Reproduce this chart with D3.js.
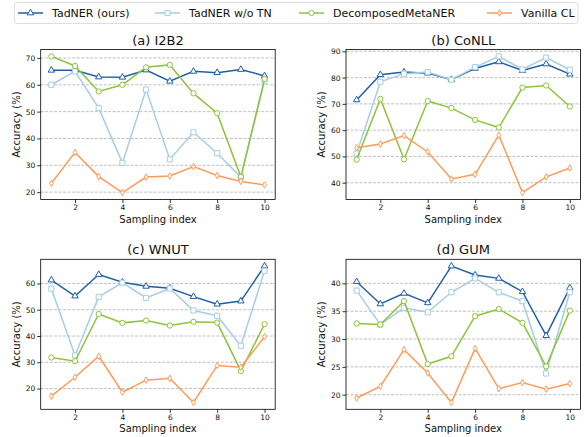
<!DOCTYPE html>
<html>
<head>
<meta charset="utf-8">
<script src="https://cdn.jsdelivr.net/npm/d3@7"></script>
<style>
  body { margin: 0; background: #fff; }
  svg { font-family: "DejaVu Sans", sans-serif; }
</style>
</head>
<body>
<div id="chart"></div>
<script>
// --- DATA ---
const samplingIndex = [1, 2, 3, 4, 5, 6, 7, 8, 9, 10];
const xTicks = [2, 4, 6, 8, 10];
const panelTitles = ["(a) I2B2", "(b) CoNLL", "(c) WNUT", "(d) GUM"];
const seriesNames = ["TadNER (ours)", "TadNER w/o TN", "DecomposedMetaNER", "Vanilla CL"];

// one array per panel, in the order a, b, c, d
const tadnerOurs = [
    [65.4, 65.4, 62.9, 62.8, 65.5, 61.3, 65.0, 64.5, 65.7, 63.3],
    [71.5, 81.1, 82.1, 81.7, 79.2, 83.5, 86.0, 82.7, 85.2, 81.3],
    [61.3, 55.2, 63.4, 60.5, 58.9, 58.2, 55.0, 52.1, 53.3, 66.6],
    [40.3, 36.3, 38.2, 36.5, 43.1, 41.5, 40.9, 38.5, 30.6, 39.2]
];
const tadnerNoTN = [
    [60.0, 65.0, 51.3, 30.9, 58.2, 32.2, 42.3, 34.5, 25.5, 61.5],
    [51.1, 78.4, 81.5, 82.1, 79.2, 84.0, 88.1, 83.1, 87.6, 83.0],
    [58.0, 32.6, 54.9, 60.3, 54.5, 58.1, 49.7, 47.7, 36.3, 64.8],
    [38.7, 32.6, 35.6, 34.8, 38.4, 40.9, 38.4, 36.8, 23.8, 38.4]
];
const decomposedMetaNER = [
    [70.6, 67.0, 57.5, 60.0, 66.5, 67.4, 56.8, 49.4, 25.7, 62.2],
    [48.8, 71.9, 48.9, 71.1, 68.4, 63.9, 61.0, 76.2, 77.0, 69.0],
    [31.8, 30.4, 48.4, 45.0, 45.9, 44.0, 45.4, 45.1, 26.7, 44.5],
    [32.8, 32.6, 36.8, 25.5, 26.9, 34.1, 35.4, 32.9, 25.1, 35.1]
];
const vanillaCL = [
    [23.3, 34.8, 25.8, 19.8, 25.6, 26.0, 29.5, 26.2, 24.0, 22.7],
    [53.3, 54.7, 57.9, 51.7, 41.4, 43.2, 58.1, 36.2, 42.2, 45.6],
    [17.1, 24.3, 32.3, 18.6, 23.2, 23.9, 14.7, 28.8, 28.1, 39.7],
    [19.4, 21.5, 28.1, 23.9, 18.6, 28.3, 21.1, 22.2, 21.0, 22.0]
];
const yTickValues = [
    [20, 30, 40, 50, 60, 70],
    [40, 50, 60, 70, 80, 90],
    [20, 30, 40, 50, 60],
    [20, 25, 30, 35, 40]
];

// --- STYLE ---
const colors = ["#1f5fa8", "#a6cde3", "#8dc43c", "#fd9c5a"];
const symbols = [d3.symbolTriangle, d3.symbolSquare, d3.symbolCircle, d3.symbolDiamond];
const symbolSizes = [18, 26, 22, 12];
const allSeries = [tadnerOurs, tadnerNoTN, decomposedMetaNER, vanillaCL];

const width = 585;
const height = 437;
const panelW = 234.5;
const panelH = 150;
const panelPos = [
    { left: 40.7, top: 49.5 },
    { left: 346, top: 49.5 },
    { left: 40.7, top: 259.3 },
    { left: 346, top: 259.3 }
];

const svg = d3.select("#chart")
    .append("svg")
    .attr("width", width)
    .attr("height", height)
    .attr("viewBox", [0, 0, width, height]);

// --- LEGEND ---
const legend = svg.append("g").attr("class", "legend");
legend.append("rect")
    .attr("x", 14.5).attr("y", 2.5)
    .attr("width", 563.5).attr("height", 21)
    .attr("rx", 2.5)
    .attr("fill", "#fff")
    .attr("stroke", "#d6d6d6")
    .attr("stroke-width", 0.8);

const legendX = [18, 155, 299, 487]; // line start of each entry
seriesNames.forEach((name, i) => {
    const g = legend.append("g").attr("transform", `translate(${legendX[i]}, 13)`);
    g.append("line")
        .attr("x1", 0).attr("x2", 25)
        .attr("stroke", colors[i])
        .attr("stroke-width", 1.5);
    g.append("path")
        .attr("transform", "translate(12.5, 0)")
        .attr("d", d3.symbol(symbols[i], symbolSizes[i])())
        .attr("fill", "#fff")
        .attr("stroke", colors[i])
        .attr("stroke-width", 1);
    g.append("text")
        .attr("x", 34)
        .attr("y", 4)
        .attr("font-size", "11px")
        .attr("fill", "#111")
        .text(name);
});

// --- PANELS ---
panelTitles.forEach((title, p) => {
    const pos = panelPos[p];
    const g = svg.append("g").attr("transform", `translate(${pos.left}, ${pos.top})`);

    const x = d3.scaleLinear()
        .domain([0.55, 10.45])
        .range([0, panelW]);

    // matplotlib style autoscale: 5% margin on data extent
    const vals = allSeries.flatMap(s => s[p]);
    const [lo, hi] = d3.extent(vals);
    const pad = (hi - lo) * 0.05;
    const y = d3.scaleLinear()
        .domain([lo - pad, hi + pad])
        .range([panelH, 0]);

    // grid lines (dashed)
    g.append("g")
        .selectAll("line")
        .data(yTickValues[p])
        .join("line")
        .attr("x1", 0).attr("x2", panelW)
        .attr("y1", d => y(d)).attr("y2", d => y(d))
        .attr("stroke", "#b0b0b0")
        .attr("stroke-width", 0.8)
        .attr("stroke-dasharray", "3,1.5");

    // axes
    const xAxis = g.append("g")
        .attr("transform", `translate(0, ${panelH})`)
        .call(d3.axisBottom(x).tickValues(xTicks).tickSize(3.5).tickPadding(2))
        .style("font-size", "7.5px")
        .style("font-family", "DejaVu Sans, sans-serif");
    const yAxis = g.append("g")
        .call(d3.axisLeft(y).tickValues(yTickValues[p]).tickSize(3.5).tickPadding(2))
        .style("font-size", "7.5px")
        .style("font-family", "DejaVu Sans, sans-serif");
    [xAxis, yAxis].forEach(a => {
        a.select(".domain").remove();
        a.selectAll(".tick line").attr("stroke", "#000").attr("stroke-width", 0.8);
        a.selectAll(".tick text").attr("fill", "#111");
    });

    // series
    allSeries.forEach((series, i) => {
        const pts = samplingIndex.map((s, k) => [s, series[p][k]]);
        g.append("path")
            .datum(pts)
            .attr("fill", "none")
            .attr("stroke", colors[i])
            .attr("stroke-width", 1.5)
            .attr("d", d3.line().x(d => x(d[0])).y(d => y(d[1])));
        g.append("g")
            .selectAll("path")
            .data(pts)
            .join("path")
            .attr("transform", d => `translate(${x(d[0])}, ${y(d[1])})`)
            .attr("d", d3.symbol(symbols[i], symbolSizes[i])())
            .attr("fill", "#fff")
            .attr("stroke", colors[i])
            .attr("stroke-width", 1);
    });

    // frame
    g.append("rect")
        .attr("width", panelW).attr("height", panelH)
        .attr("fill", "none")
        .attr("stroke", "#000")
        .attr("stroke-width", 0.8);

    // title and labels
    g.append("text")
        .attr("x", panelW / 2)
        .attr("y", -5)
        .attr("text-anchor", "middle")
        .attr("font-size", "13px")
        .attr("fill", "#111")
        .text(title);
    g.append("text")
        .attr("x", panelW / 2)
        .attr("y", panelH + 23)
        .attr("text-anchor", "middle")
        .attr("font-size", "10px")
        .attr("fill", "#111")
        .text("Sampling index");
    g.append("text")
        .attr("transform", `translate(-21, ${panelH / 2}) rotate(-90)`)
        .attr("text-anchor", "middle")
        .attr("font-size", "10px")
        .attr("fill", "#111")
        .text("Accuracy (%)");
});
</script>
</body>
</html>
